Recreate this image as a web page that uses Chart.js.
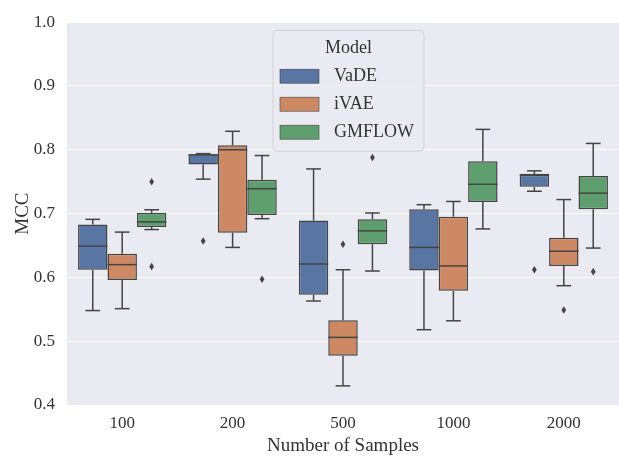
<!DOCTYPE html>
<html>
<head>
<meta charset="utf-8">
<script src="https://cdn.jsdelivr.net/npm/chart.js@4.4.0/dist/chart.umd.min.js"></script>
<style>
  body { margin: 0; background: #ffffff; }
  #wrap { width: 619px; height: 456px; }
</style>
</head>
<body>
<div id="wrap"><canvas id="grafica" width="619" height="456"></canvas></div>
<script>
// categorias y modelos
const muestras = ['100', '200', '500', '1000', '2000'];
const modelos = ['VaDE', 'iVAE', 'GMFLOW'];
const colores = ['#5875a4', '#cc8963', '#5f9e6e']; // VaDE - iVAE - GMFLOW
const yTicks = [0.4, 0.5, 0.6, 0.7, 0.8, 0.9, 1.0];

// VaDE
const vadeMin = [0.548, 0.754, 0.563, 0.518, 0.735];
const vadeQ1 = [0.612, 0.777, 0.573, 0.611, 0.742];
const vadeMed = [0.649, 0.792, 0.621, 0.647, 0.761];
const vadeQ3 = [0.683, 0.793, 0.689, 0.707, 0.761];
const vadeMax = [0.691, 0.794, 0.770, 0.714, 0.767];
const vadeOut = [[], [0.657], [], [], [0.612]];

// iVAE
const ivaeMin = [0.551, 0.647, 0.430, 0.532, 0.587];
const ivaeQ1 = [0.596, 0.670, 0.477, 0.579, 0.618];
const ivaeMed = [0.620, 0.800, 0.506, 0.618, 0.641];
const ivaeQ3 = [0.637, 0.807, 0.533, 0.695, 0.662];
const ivaeMax = [0.671, 0.829, 0.612, 0.719, 0.722];
const ivaeOut = [[], [], [0.652], [], [0.549]];

// GMFLOW
const gmMin = [0.675, 0.692, 0.610, 0.676, 0.646];
const gmQ1 = [0.679, 0.698, 0.652, 0.718, 0.707];
const gmMed = [0.687, 0.739, 0.673, 0.746, 0.732];
const gmQ3 = [0.701, 0.753, 0.691, 0.782, 0.759];
const gmMax = [0.706, 0.791, 0.701, 0.832, 0.810];
const gmOut = [[0.750, 0.617], [0.597], [0.788], [], [0.609]];

const cajas = [
    { q1: vadeQ1, q3: vadeQ3, med: vadeMed, min: vadeMin, max: vadeMax, out: vadeOut },
    { q1: ivaeQ1, q3: ivaeQ3, med: ivaeMed, min: ivaeMin, max: ivaeMax, out: ivaeOut },
    { q1: gmQ1, q3: gmQ3, med: gmMed, min: gmMin, max: gmMax, out: gmOut }
];

const gris = '#444444';
const texto = '#333333';
Chart.defaults.font.family = '"Liberation Serif", serif';
Chart.defaults.color = texto;

// 🔹 Fondo, bigotes, medianas, atipicos y leyenda
const extrasCaja = {
    id: 'extrasCaja',
    beforeDraw(chart) {
        const a = chart.chartArea;
        const c = chart.ctx;
        c.save();
        c.fillStyle = '#eaeaf2';
        c.fillRect(a.left, a.top, a.right - a.left, a.bottom - a.top);
        c.restore();
    },
    afterDatasetsDraw(chart) {
        const c = chart.ctx;
        const y = chart.scales.y;
        c.save();
        c.strokeStyle = gris;
        c.fillStyle = gris;
        c.lineWidth = 1.5;
        cajas.forEach((caja, i) => {
            chart.getDatasetMeta(i).data.forEach((bar, j) => {
                const x = bar.x;
                const w = bar.width;
                const linea = (x1, y1, x2, y2) => {
                    c.beginPath();
                    c.moveTo(x1, y1);
                    c.lineTo(x2, y2);
                    c.stroke();
                };
                // bigotes
                linea(x, y.getPixelForValue(caja.q3[j]), x, y.getPixelForValue(caja.max[j]));
                linea(x, y.getPixelForValue(caja.q1[j]), x, y.getPixelForValue(caja.min[j]));
                linea(x - w / 4, y.getPixelForValue(caja.max[j]), x + w / 4, y.getPixelForValue(caja.max[j]));
                linea(x - w / 4, y.getPixelForValue(caja.min[j]), x + w / 4, y.getPixelForValue(caja.min[j]));
                // mediana
                linea(x - w / 2, y.getPixelForValue(caja.med[j]), x + w / 2, y.getPixelForValue(caja.med[j]));
                // atipicos (rombos)
                caja.out[j].forEach(v => {
                    const py = y.getPixelForValue(v);
                    c.beginPath();
                    c.moveTo(x, py - 3.8);
                    c.lineTo(x + 2.4, py);
                    c.lineTo(x, py + 3.8);
                    c.lineTo(x - 2.4, py);
                    c.closePath();
                    c.fill();
                });
            });
        });
        c.restore();
    },
    afterDraw(chart) {
        const c = chart.ctx;
        const a = chart.chartArea;
        const lx = a.left + 206, ly = a.top + 8, lw = 151, lh = 121;
        c.save();
        c.beginPath();
        c.roundRect(lx, ly, lw, lh, 4);
        c.fillStyle = 'rgba(234,234,242,0.8)';
        c.fill();
        c.strokeStyle = 'rgba(204,204,204,0.8)';
        c.lineWidth = 1;
        c.stroke();
        c.fillStyle = texto;
        c.font = '18px "Liberation Serif", serif';
        c.textBaseline = 'middle';
        c.textAlign = 'center';
        c.fillText('Model', lx + lw / 2, ly + 18);
        c.textAlign = 'left';
        chart.data.datasets.forEach((ds, i) => {
            const cy = ly + 46 + i * 28;
            c.fillStyle = ds.backgroundColor;
            c.fillRect(lx + 7, cy - 7, 39, 14);
            c.strokeStyle = gris;
            c.lineWidth = 0.6;
            c.strokeRect(lx + 7, cy - 7, 39, 14);
            c.fillStyle = texto;
            c.fillText(ds.label, lx + 61, cy);
        });
        c.restore();
    }
};

new Chart(document.getElementById('grafica').getContext('2d'), {
    type: 'bar',
    data: {
        labels: muestras,
        datasets: modelos.map((m, i) => ({
            label: m,
            data: cajas[i].q1.map((v, j) => [v, cajas[i].q3[j]]),
            backgroundColor: colores[i],
            borderColor: gris,
            borderWidth: 1.5,
            borderSkipped: false,
            categoryPercentage: 0.8,
            barPercentage: 1.0
        }))
    },
    options: {
        responsive: false,
        animation: false,
        layout: { padding: { top: 18, right: 0, left: 0, bottom: 0 } },
        plugins: {
            legend: { display: false },
            tooltip: { enabled: false }
        },
        scales: {
            x: {
                grid: { display: false, drawTicks: false },
                border: { display: false },
                ticks: { font: { size: 17 }, padding: 8, color: texto },
                title: { display: true, text: 'Number of Samples', font: { size: 19, lineHeight: 1.0 }, padding: { top: 0, bottom: 0 }, color: texto },
                afterFit(s) { s.height = 51; }
            },
            y: {
                min: 0.4,
                max: 1.0,
                afterBuildTicks(s) { s.ticks = yTicks.map(v => ({ value: v })); },
                grid: { color: '#ffffff', lineWidth: 1, drawTicks: false },
                border: { display: false },
                ticks: { font: { size: 17 }, padding: 12, color: texto, callback: v => v.toFixed(1) },
                title: { display: true, text: 'MCC', font: { size: 19 }, padding: { top: 12, bottom: 0 }, color: texto },
                afterFit(s) { s.width = 67; }
            }
        }
    },
    plugins: [extrasCaja]
});
</script>
</body>
</html>
